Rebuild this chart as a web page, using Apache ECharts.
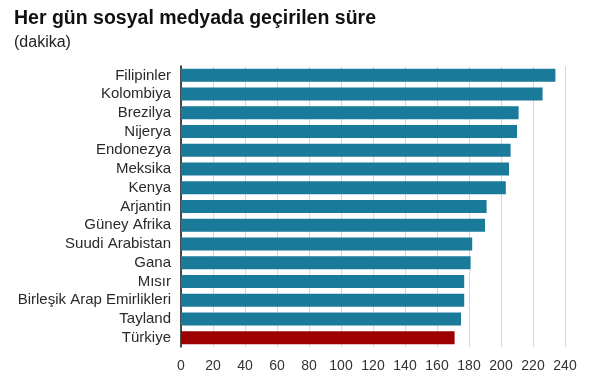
<!DOCTYPE html>
<html><head><meta charset="utf-8">
<script src="https://cdn.jsdelivr.net/npm/echarts@6/dist/echarts.min.js"></script>
<style>html,body{margin:0;padding:0;background:#fff}#c{width:600px;height:387px}</style>
</head><body><div id="c"></div>
<script>
const categories = ["Filipinler","Kolombiya","Brezilya","Nijerya","Endonezya","Meksika","Kenya","Arjantin","Güney Afrika","Suudi Arabistan","Gana","Mısır","Birleşik Arap Emirlikleri","Tayland","Türkiye"];
const values = [234,226,211,210,206,205,203,191,190,182,181,177,177,175,171];
const highlight = "Türkiye";
const xTicks = [0,20,40,60,80,100,120,140,160,180,200,220,240];

const chart = echarts.init(document.getElementById('c'));
chart.setOption({
  animation:false,
  backgroundColor:'#fff',
  title:[
    {text:'Her gün sosyal medyada geçirilen süre',left:9,top:4,textStyle:{fontFamily:'Liberation Sans',fontSize:19.5,fontWeight:'bold',color:'#111'}},
    {text:'(dakika)',left:9,top:30,textStyle:{fontFamily:'Liberation Sans',fontSize:16,fontWeight:'normal',color:'#222'}}
  ],
  grid:{left:181,right:35,top:66,bottom:40,containLabel:false},
  xAxis:{type:'value',min:xTicks[0],max:xTicks[xTicks.length-1],interval:20,
    axisLine:{show:false},axisTick:{show:false},
    splitLine:{lineStyle:{color:'#d6d6d6',width:1}},
    axisLabel:{fontFamily:'Liberation Sans',fontSize:14,color:'#333',margin:12}},
  yAxis:{type:'category',inverse:true,data:categories,
    axisLine:{show:true,lineStyle:{color:'#111',width:1.5}},axisTick:{show:false},
    axisLabel:{interval:0,fontFamily:'Liberation Sans',fontSize:15,color:'#2a2a2a',margin:10}},
  series:[{type:'bar',barWidth:13,
    data:values.map((v,i)=>({value:v,itemStyle:{color:categories[i]===highlight?'#9c0000':'#1a7a9a'}}))}]
});
</script></body></html>
